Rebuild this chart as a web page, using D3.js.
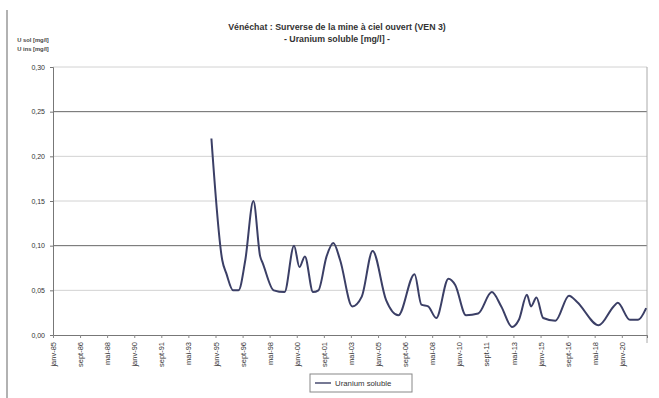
<!DOCTYPE html>
<html>
<head>
<meta charset="utf-8">
<script src="https://cdn.jsdelivr.net/npm/d3@7"></script>
<style>
  body { margin: 0; background: #fff; }
  svg { font-family: "Liberation Sans", Arial, sans-serif; }
</style>
</head>
<body>
<div id="chart"></div>
<script>
// measurement dates (year-month) and soluble uranium, mg/l
const dates = ["1994-10", "1995-06", "1995-09", "1996-02", "1996-06", "1996-11", "1997-05", "1997-10",
    "1997-12", "1998-08", "1999-04", "1999-11", "2000-03", "2000-07", "2001-01", "2001-05", "2001-11",
    "2002-04", "2002-09", "2003-06", "2004-01", "2004-09", "2005-07", "2006-04", "2007-04", "2007-09",
    "2008-02", "2008-08", "2009-05", "2009-10", "2010-06", "2011-03", "2012-01", "2012-08", "2013-04",
    "2013-09", "2014-03", "2014-06", "2014-10", "2015-03", "2015-12", "2016-10", "2017-04", "2018-08",
    "2019-07", "2019-10", "2020-07", "2021-01", "2021-07"];
const uranium = [0.220, 0.084, 0.069, 0.050, 0.050, 0.084, 0.150, 0.088,
    0.080, 0.050, 0.048, 0.100, 0.076, 0.088, 0.048, 0.050, 0.088,
    0.103, 0.084, 0.032, 0.043, 0.094, 0.039, 0.022, 0.068, 0.034,
    0.032, 0.019, 0.063, 0.056, 0.022, 0.024, 0.048, 0.032, 0.009,
    0.017, 0.045, 0.032, 0.042, 0.019, 0.016, 0.044, 0.037, 0.011,
    0.032, 0.036, 0.017, 0.017, 0.030];
const yTicks = [0, 0.05, 0.10, 0.15, 0.20, 0.25, 0.30];
const darkGrid = [0.10, 0.25];
const monthsFr = ["janv", "févr", "mars", "avr", "mai", "juin", "juil", "août", "sept", "oct", "nov", "déc"];

const W = 659, H = 398;
const plotL = 53, plotR = 647, plotT = 67, plotB = 335;

const parse = d3.timeParse("%Y-%m");
const data = dates.map((d, i) => ({ date: parse(d), value: uranium[i] }));

const svg = d3.select("#chart").append("svg")
    .attr("width", W)
    .attr("height", H);

// scanned page edge
svg.append("line")
    .attr("x1", 7).attr("x2", 7)
    .attr("y1", 10).attr("y2", H)
    .attr("stroke", "#999")
    .attr("stroke-width", 1.5);

const xScale = d3.scaleTime()
    .domain([new Date(1985, 0, 1), new Date(2021, 6, 20)])
    .range([plotL, plotR]);

const yScale = d3.scaleLinear()
    .domain([0, 0.30])
    .range([plotB, plotT]);

// gridlines
svg.append("g")
    .selectAll("line")
    .data(yTicks.filter(d => d > 0))
    .enter().append("line")
    .attr("x1", plotL).attr("x2", plotR)
    .attr("y1", d => yScale(d)).attr("y2", d => yScale(d))
    .attr("stroke", d => darkGrid.some(g => Math.abs(g - d) < 1e-9) ? "#666" : "#d2d2d2")
    .attr("stroke-width", 1);

// right border of plot area
svg.append("line")
    .attr("x1", plotR).attr("x2", plotR)
    .attr("y1", plotT).attr("y2", plotB + 8)
    .attr("stroke", "#aaa");

// y axis
const yAxis = svg.append("g")
    .attr("transform", `translate(${plotL},0)`)
    .call(d3.axisLeft(yScale)
        .tickValues(yTicks)
        .tickSize(3)
        .tickFormat(d => d3.format(".2f")(d).replace(".", ",")));
yAxis.select(".domain").attr("stroke", "#777");
yAxis.selectAll(".tick line").attr("stroke", "#777");
yAxis.selectAll("text")
    .attr("font-size", 7)
    .attr("fill", "#333")
    .attr("x", -8);

// x axis: one label every 20 months
const xTicks = d3.range(0, 22).map(i => new Date(1985, i * 20, 1));
const xAxis = svg.append("g")
    .attr("transform", `translate(0,${plotB})`)
    .call(d3.axisBottom(xScale)
        .tickValues(xTicks)
        .tickSize(3)
        .tickFormat(d => monthsFr[d.getMonth()] + "-" + d3.timeFormat("%y")(d)));
xAxis.select(".domain").attr("stroke", "#777");
xAxis.selectAll(".tick line").attr("stroke", "#888");
xAxis.selectAll("text")
    .attr("font-size", 7.5)
    .attr("fill", "#333")
    .attr("transform", "rotate(-90)")
    .attr("text-anchor", "end")
    .attr("x", -7)
    .attr("y", 0)
    .attr("dy", "0.35em");

// series
const line = d3.line()
    .x(d => xScale(d.date))
    .y(d => yScale(d.value))
    .curve(d3.curveMonotoneX);

svg.append("path")
    .datum(data)
    .attr("fill", "none")
    .attr("stroke", "#3b3f66")
    .attr("stroke-width", 2)
    .attr("stroke-linejoin", "round")
    .attr("d", line);

// titles
svg.append("text")
    .attr("x", 337).attr("y", 30)
    .attr("text-anchor", "middle")
    .attr("font-size", 8.8)
    .attr("font-weight", "bold")
    .attr("fill", "#333")
    .text("Vénéchat : Surverse de la mine à ciel ouvert (VEN 3)");
svg.append("text")
    .attr("x", 337).attr("y", 42)
    .attr("text-anchor", "middle")
    .attr("font-size", 8.8)
    .attr("font-weight", "bold")
    .attr("fill", "#333")
    .text("- Uranium soluble [mg/l] -");

// axis unit labels
svg.append("text")
    .attr("x", 33).attr("y", 42)
    .attr("text-anchor", "middle")
    .attr("font-size", 5.8)
    .attr("font-weight", "bold")
    .attr("fill", "#444")
    .text("U sol [mg/l]");
svg.append("text")
    .attr("x", 33).attr("y", 51)
    .attr("text-anchor", "middle")
    .attr("font-size", 5.8)
    .attr("font-weight", "bold")
    .attr("fill", "#444")
    .text("U ins [mg/l]");

// legend
const legend = svg.append("g").attr("transform", "translate(310,374)");
legend.append("rect")
    .attr("width", 102).attr("height", 18)
    .attr("fill", "#fff")
    .attr("stroke", "#888");
legend.append("line")
    .attr("x1", 5).attr("x2", 21)
    .attr("y1", 9).attr("y2", 9)
    .attr("stroke", "#3b3f66")
    .attr("stroke-width", 1.4);
legend.append("text")
    .attr("x", 25).attr("y", 11.8)
    .attr("font-size", 7.8)
    .attr("fill", "#333")
    .text("Uranium soluble");
</script>
</body>
</html>
